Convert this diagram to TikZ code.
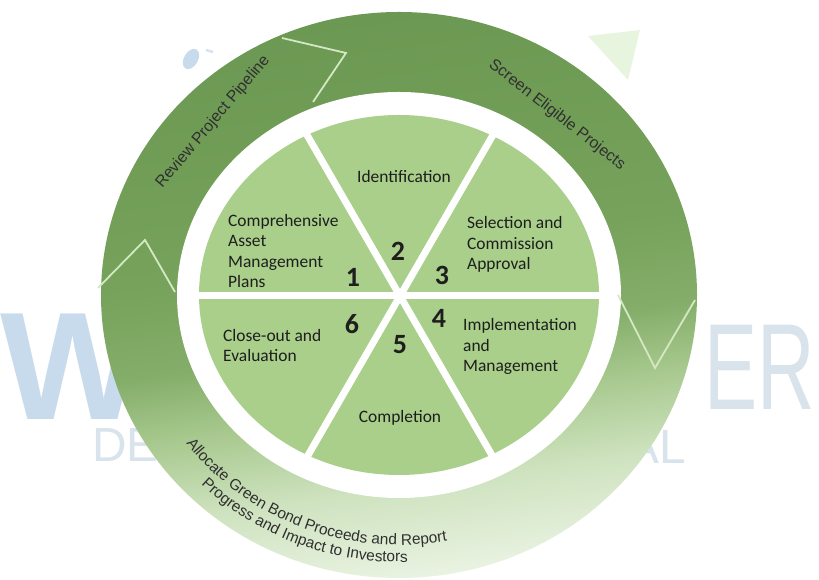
\documentclass[tikz,border=0pt]{standalone}
\usepackage{fontspec}
\setmainfont{Carlito}
\newfontfamily\ringfamily{Liberation Sans}
\newfontfamily\wmfamily{Liberation Sans}
\usetikzlibrary{decorations.text}

\definecolor{piegreen}{HTML}{A9CF8B}
\definecolor{ringdark}{HTML}{6B9852}
\definecolor{ringdark2}{HTML}{76A25B}
\definecolor{ringmid}{HTML}{84AD69}
\definecolor{ringmed}{HTML}{A8C98F}
\definecolor{ringpale}{HTML}{CFE3C0}
\definecolor{ringlight}{HTML}{EAF3E2}
\definecolor{chevcol}{HTML}{D3E8C3}
\definecolor{wmblue}{HTML}{C8DBEC}
\definecolor{wmthin}{HTML}{D9E3EC}
\definecolor{wmgreen}{HTML}{E8F5DE}
\definecolor{txtcol}{HTML}{1E1E1E}
\definecolor{ringtxt}{HTML}{303030}

\pgfdeclareverticalshading{ringshade}{100bp}{color(0bp)=(ringlight); color(25bp)=(ringlight); color(33bp)=(ringpale); color(40bp)=(ringmed); color(46bp)=(ringmid); color(54bp)=(ringdark2); color(75bp)=(ringdark); color(100bp)=(ringdark)}

\newcommand\ringfont{\ringfamily\fontsize{15.5}{18}\selectfont\color{ringtxt}}

\tikzset{
  pietext/.style={font=\fontsize{17.5}{20.7}\selectfont, text=txtcol, align=left, inner sep=0pt},
  numtext/.style={font=\bfseries\fontsize{28}{28}\selectfont, text=txtcol, inner sep=0pt},
  straightlabel/.style={font=\ringfamily\fontsize{16}{18}\selectfont, text=ringtxt, inner sep=0pt},
  divider/.style={white, line width=7bp},
  chevron/.style={chevcol, line width=1.8bp},
  wmthick/.style={text=wmblue, inner sep=0pt, font=\wmfamily\bfseries\fontsize{154}{154}\selectfont},
  wmlight/.style={text=wmthin, inner sep=0pt, font=\wmfamily\fontsize{123}{123}\selectfont},
  wmsmall/.style={text=wmthin, inner sep=0pt, font=\wmfamily\fontsize{48}{48}\selectfont},
  ringlabel/.style={decorate, decoration={text along path, text align=center, text={|\ringfont|#1}}}
}

\begin{document}
\begin{tikzpicture}[x=1bp,y=1bp]
\useasboundingbox (0,0) rectangle (819,580);
\fill[white] (0,0) rectangle (819,580);

% watermark fragments
\node[wmthick, anchor=south west] (wmW) at (0,160) {W};
\begin{scope}[shift={(704,170)}, xscale=0.65]
  \node[wmlight, anchor=south west, transform shape] (wmER) at (0,0) {ER};
\end{scope}
\node[wmsmall, anchor=south west] (wmDE) at (92,118) {DE};
\node[wmsmall, anchor=south west] (wmIAL) at (614,116) {IAL};
\fill[wmblue, rotate around={-30:(191,521)}] (191,521) ellipse [x radius=7, y radius=11];
\draw[wmthin, line width=2.5bp] (206,530) -- (213,528);
\fill[wmgreen] (588,544) -- (640,550) -- (628,500) -- cycle;

% outer ring
\shade[shading=ringshade, shading angle=8] (399,285) ellipse [x radius=298, y radius=283];
\fill[white] (399,285) ellipse [x radius=222, y radius=203];

% chevron lines on the ring
\draw[chevron] (282,542) -- (346,527) -- (313,478);
\draw[chevron] (98,292) -- (145,340) -- (175,288);
\draw[chevron] (618,285) -- (655,212) -- (695,280);

% ring labels
\node[straightlabel, rotate=50] (lrev) at (213,458) {Review Project Pipeline};
\node[straightlabel, rotate=-38] (lscr) at (557,465) {Screen Eligible Projects};
\begin{scope}[shift={(399,285)}]
\path[ringlabel={Allocate Green Bond Proceeds and Report}] (193:264 and 250) arc[start angle=193, end angle=303, x radius=264, y radius=250];
\path[ringlabel={Progress and Impact to Investors}] (193:281 and 267) arc[start angle=193, end angle=303, x radius=281, y radius=267];
\end{scope}

% pie
\fill[piegreen] (399,285) ellipse [x radius=200, y radius=180];
\coordinate (C) at (400,284);
\draw[divider] ([xshift=-210bp]C) -- ([xshift=210bp]C);
\draw[divider] ([shift={(60:198)}]C) -- ([shift={(240:198)}]C);
\draw[divider] ([shift={(120:198)}]C) -- ([shift={(300:198)}]C);

% sector texts (base anchor = baseline of last line)
\node[pietext, anchor=base west] (t1) at (228,292) {Comprehensive\\Asset\\Management\\Plans};
\node[pietext, anchor=base] (t2) at (404,397) {Identification};
\node[pietext, anchor=base west] (t3) at (467,310) {Selection and\\Commission\\Approval};
\node[pietext, anchor=base west] (t4) at (463,208) {Implementation\\and\\Management};
\node[pietext, anchor=base] (t5) at (400,157) {Completion};
\node[pietext, anchor=base west] (t6) at (223,218) {Close-out and\\Evaluation};

% numbers
\node[numtext] (n1) at (353,303) {1};
\node[numtext] (n2) at (398,329) {2};
\node[numtext] (n3) at (442,305) {3};
\node[numtext] (n4) at (439,262) {4};
\node[numtext] (n5) at (400,235) {5};
\node[numtext] (n6) at (352,256) {6};
\end{tikzpicture}
\end{document}
